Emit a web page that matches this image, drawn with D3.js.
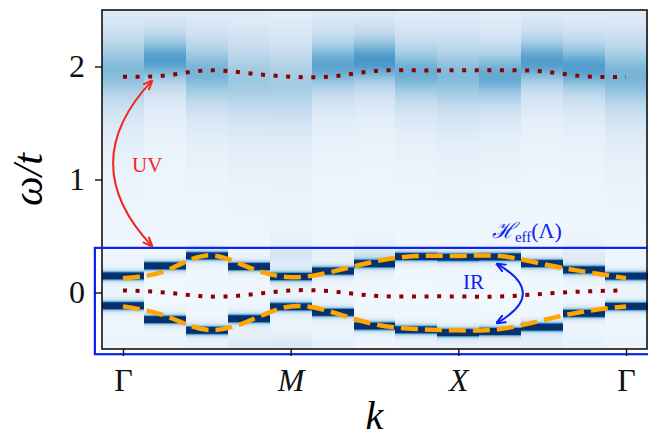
<!DOCTYPE html>
<html>
<head>
<meta charset="utf-8">
<script src="https://cdn.jsdelivr.net/npm/d3@7"></script>
<style>
body { margin: 0; background: #fff; }
svg { display: block; }
</style>
</head>
<body>
<svg id="chart" width="648" height="439"></svg>
<script>
// momentum path Gamma -> M -> X -> Gamma, 13 k points
var kPoints = [0, 1, 2, 3, 4, 5, 6, 7, 8, 9, 10, 11, 12];
var kTickPos = [0, 4, 8, 12];
var kTickLabels = ["Γ", "M", "X", "Γ"];
var wTicks = [0, 1, 2];

// sharp low energy bands (centre of the dark strip in each column)
var bandUpper = [0.147, 0.236, 0.324, 0.230, 0.141, 0.190, 0.255, 0.318, 0.312, 0.315, 0.256, 0.200, 0.145];
var bandLower = [-0.117, -0.240, -0.335, -0.232, -0.126, -0.176, -0.297, -0.330, -0.355, -0.345, -0.306, -0.185, -0.123];

// broad high energy band: centre, peak intensity, width
var hiCentre = [1.97, 2.06, 1.95, 1.89, 1.86, 2.01, 2.05, 1.95, 1.92, 1.92, 2.04, 1.99, 1.92];
var hiHeight = [0.42, 0.55, 0.45, 0.35, 0.33, 0.52, 0.58, 0.48, 0.42, 0.50, 0.55, 0.55, 0.45];
var hiWidth = [0.30, 0.21, 0.28, 0.35, 0.35, 0.23, 0.21, 0.25, 0.30, 0.24, 0.21, 0.22, 0.30];

// faint satellite weight near the window edges
var satTop = [0, 0, 0, 0, 0.13, 0.04, 0.12, 0, 0, 0, 0, 0.08, 0];
var satBottom = [0.03, 0.03, 0.04, 0.10, 0.12, 0.06, 0.02, 0.03, 0.03, 0.03, 0.08, 0.05, 0.03];

// effective model (orange dashed)
var effUpper = [0.127, 0.190, 0.328, 0.222, 0.135, 0.185, 0.274, 0.322, 0.324, 0.322, 0.253, 0.185, 0.127];
var effLower = [-0.123, -0.206, -0.330, -0.252, -0.123, -0.175, -0.280, -0.323, -0.335, -0.323, -0.247, -0.168, -0.123];

// dotted dark red lines
var dotLow = [0.018, 0.000, -0.035, -0.020, 0.018, 0.009, -0.029, -0.035, -0.035, -0.035, -0.012, 0.009, 0.018];
var dotHigh = [1.910, 1.920, 1.966, 1.940, 1.910, 1.913, 1.960, 1.966, 1.966, 1.966, 1.957, 1.913, 1.910];

// annotation anchors in (k, omega)
var boxK = [-0.67, 13.2];
var boxW = [-0.546, 0.395];
var uvEnds = [[0.69, 1.873], [0.69, 0.412]];
var irEnds = [[8.92, 0.253], [8.92, -0.269]];

var svg = d3.select("#chart");
var pLeft = 102, pRight = 647, pTop = 10, pBottom = 349;

var x = d3.scaleLinear().domain([-0.5, 12.5]).range([pLeft, pRight]);
var y = d3.scaleLinear().domain([-0.5, 2.5]).range([pBottom, pTop]);

function lor(w, c, h, g) {
    var u = (w - c) / g;
    return h / (1 + u * u);
}
function lor2(w, c, h, g) {
    var u = (w - c) / g;
    return h / ((1 + u * u) * (1 + u * u));
}

function intensity(i, w) {
    var t = 0.025;
    t += lor(w, hiCentre[i], hiHeight[i], hiWidth[i]);
    t += lor2(w, bandUpper[i], 3, 0.03);
    t += lor2(w, bandLower[i], 3, 0.03);
    t += lor(w, 0.33, satTop[i], 0.08);
    t += lor(w, -0.48, satBottom[i], 0.1);
    return Math.min(1, t);
}

// heat map, one strip per pixel row
var rows = d3.range(pTop, pBottom);
var heat = svg.append("g").attr("shape-rendering", "crispEdges");
kPoints.forEach(function(k, i) {
    heat.append("g").selectAll("rect")
        .data(rows)
        .enter()
        .append("rect")
        .attr("x", x(k - 0.5))
        .attr("width", x(k + 0.5) - x(k - 0.5) + 0.5)
        .attr("y", function(r) { return r; })
        .attr("height", 1.2)
        .attr("fill", function(r) {
            return d3.interpolateBlues(intensity(i, y.invert(r + 0.5)));
        });
});

var line = function(vals) {
    return d3.line()
        .x(function(d, i) { return x(kPoints[i]); })
        .y(function(d) { return y(d); })
        .curve(d3.curveNatural)(vals);
};

[effUpper, effLower].forEach(function(v) {
    svg.append("path")
        .attr("d", line(v))
        .attr("fill", "none")
        .attr("stroke", "#ffa500")
        .attr("stroke-width", 4.5)
        .attr("stroke-dasharray", "17,7");
});

[dotLow, dotHigh].forEach(function(v) {
    svg.append("path")
        .attr("d", line(v))
        .attr("fill", "none")
        .attr("stroke", "#8b0000")
        .attr("stroke-width", 4)
        .attr("stroke-dasharray", "4,8.6");
});

// frame
svg.append("rect")
    .attr("x", pLeft).attr("y", pTop)
    .attr("width", pRight - pLeft).attr("height", pBottom - pTop)
    .attr("fill", "none")
    .attr("stroke", "#111")
    .attr("stroke-width", 1.6);

// effective window box
var blue = "#0a22f0", red = "#f0281e";
svg.append("rect")
    .attr("x", x(boxK[0])).attr("y", y(boxW[1]))
    .attr("width", x(boxK[1]) - x(boxK[0]))
    .attr("height", y(boxW[0]) - y(boxW[1]))
    .attr("fill", "none")
    .attr("stroke", blue)
    .attr("stroke-width", 2.2);

// axes
var serif = "'Liberation Serif', 'DejaVu Serif', serif";
var yAxis = svg.append("g")
    .attr("transform", "translate(" + pLeft + ",0)")
    .call(d3.axisLeft(y).tickValues(wTicks).tickSize(7).tickPadding(10).tickFormat(d3.format("d")));
var xAxis = svg.append("g")
    .attr("transform", "translate(0," + pBottom + ")")
    .call(d3.axisBottom(x).tickValues(kTickPos).tickSize(7).tickPadding(12)
        .tickFormat(function(d, i) { return kTickLabels[i]; }));
[xAxis, yAxis].forEach(function(a) {
    a.select(".domain").remove();
    a.selectAll("line").attr("stroke", "#111").attr("stroke-width", 1.4);
    a.selectAll("text")
        .attr("fill", "#111")
        .style("font-family", serif)
        .style("font-size", "32px");
});
xAxis.selectAll("text").style("font-style", function(d, i) {
    return kTickLabels[i] == "Γ" ? "normal" : "italic";
});

svg.append("text")
    .attr("transform", "translate(42," + ((pTop + pBottom) / 2) + ") rotate(-90)")
    .attr("text-anchor", "middle")
    .style("font-family", serif)
    .style("font-size", "42px")
    .style("font-style", "italic")
    .text("ω/t");

svg.append("text")
    .attr("x", (pLeft + pRight) / 2)
    .attr("y", 429)
    .attr("text-anchor", "middle")
    .style("font-family", serif)
    .style("font-size", "40px")
    .style("font-style", "italic")
    .text("k");

// curved double arrows (arc3 style)
function addMarker(id, col) {
    svg.append("defs").append("marker")
        .attr("id", id)
        .attr("viewBox", "0 -5 10 10")
        .attr("refX", 9).attr("refY", 0)
        .attr("markerUnits", "userSpaceOnUse")
        .attr("markerWidth", 10).attr("markerHeight", 10)
        .attr("orient", "auto-start-reverse")
        .append("path")
        .attr("d", "M0,-4L10,0L0,4")
        .attr("fill", "none")
        .attr("stroke", col)
        .attr("stroke-width", 2);
}
addMarker("headRed", red);
addMarker("headBlue", blue);

function arc3(ends, rad) {
    var x1 = x(ends[0][0]), y1 = y(ends[0][1]);
    var x2 = x(ends[1][0]), y2 = y(ends[1][1]);
    var cx = (x1 + x2) / 2 + rad * (y2 - y1);
    var cy = (y1 + y2) / 2 - rad * (x2 - x1);
    var p = d3.path();
    p.moveTo(x1, y1);
    p.quadraticCurveTo(cx, cy, x2, y2);
    return p.toString();
}

svg.append("path")
    .attr("d", arc3(uvEnds, -0.47))
    .attr("fill", "none")
    .attr("stroke", red)
    .attr("stroke-width", 2)
    .attr("marker-start", "url(#headRed)")
    .attr("marker-end", "url(#headRed)");

svg.append("path")
    .attr("d", arc3(irEnds, 0.88))
    .attr("fill", "none")
    .attr("stroke", blue)
    .attr("stroke-width", 2)
    .attr("marker-start", "url(#headBlue)")
    .attr("marker-end", "url(#headBlue)");

svg.append("text")
    .attr("x", x(0.216)).attr("y", y(1.067))
    .attr("fill", red)
    .style("font-family", serif)
    .style("font-size", "21px")
    .text("UV");

svg.append("text")
    .attr("x", x(8.11)).attr("y", y(0.032))
    .attr("fill", blue)
    .style("font-family", serif)
    .style("font-size", "21px")
    .text("IR");

var heff = svg.append("text")
    .attr("x", x(8.80)).attr("y", y(0.483))
    .attr("fill", blue)
    .style("font-family", serif)
    .style("font-size", "22px");
heff.append("tspan").style("font-style", "italic").text("ℋ");
heff.append("tspan").attr("dy", 4).style("font-size", "15px").text("eff");
heff.append("tspan").attr("dy", -4).text("(Λ)");
</script>
</body>
</html>
